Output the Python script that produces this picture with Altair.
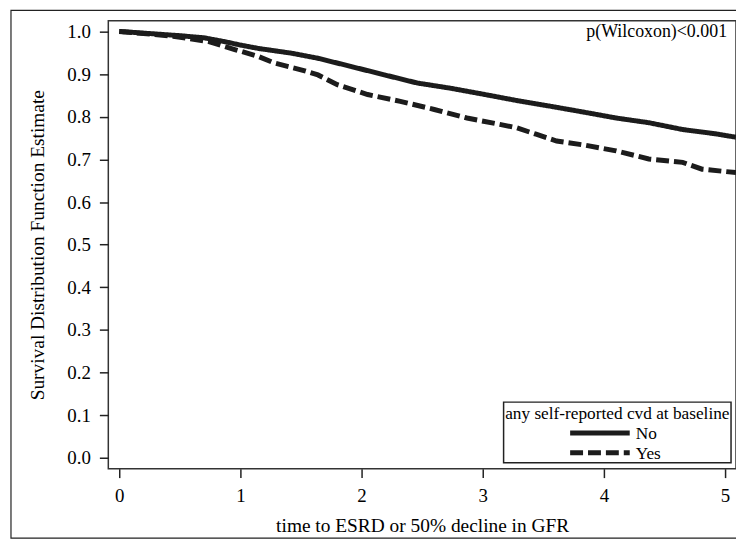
import altair as alt
import pandas as pd

# Kaplan-Meier curves
t_no = [0.0, 0.25, 0.5, 0.7, 0.87, 1.0, 1.15, 1.42, 1.64, 1.91, 2.19, 2.46, 2.73,
        3.0, 3.28, 3.55, 3.83, 4.10, 4.37, 4.65, 4.92, 5.09]
s_no = [1.0, 0.995, 0.99, 0.985, 0.976, 0.968, 0.960, 0.949, 0.937, 0.918, 0.898,
        0.879, 0.867, 0.853, 0.838, 0.825, 0.811, 0.797, 0.786, 0.770, 0.760, 0.752]
t_yes = [0.0, 0.2, 0.46, 0.74, 0.96, 1.15, 1.28, 1.5, 1.64, 1.80, 2.05, 2.32, 2.60,
         2.87, 3.14, 3.28, 3.44, 3.61, 3.83, 4.10, 4.37, 4.65, 4.81, 5.09]
s_yes = [1.0, 0.995, 0.988, 0.976, 0.957, 0.941, 0.926, 0.910, 0.898, 0.875, 0.852,
         0.836, 0.817, 0.797, 0.782, 0.774, 0.759, 0.743, 0.734, 0.720, 0.701, 0.693,
         0.677, 0.669]
groups = ["No", "Yes"]
legend_title = "any self-reported cvd at baseline"
x_ticks = [0, 1, 2, 3, 4, 5]
y_ticks = [0.0, 0.1, 0.2, 0.3, 0.4, 0.5, 0.6, 0.7, 0.8, 0.9, 1.0]
annotation = "p(Wilcoxon)<0.001"

df = pd.DataFrame({
    "t": t_no + t_yes,
    "s": s_no + s_yes,
    "g": ["No"] * len(t_no) + ["Yes"] * len(t_yes),
})

FONT = "Liberation Serif"
INK = "#1c1c1c"
W, H = 632, 451
PAD_L, PAD_T, PAD_R, PAD_B = 101, 11, 0, 71

color_enc = alt.Color("g:N", scale=alt.Scale(domain=groups, range=[INK, INK]), legend=None)
dash_enc = alt.StrokeDash("g:N", scale=alt.Scale(domain=groups, range=[[1, 0], [13, 5]]),
                          legend=None)

lines = alt.Chart(df).mark_line(strokeWidth=5, clip=True).encode(
    x=alt.X("t:Q", scale=alt.Scale(domain=[-0.09, 5.09], nice=False, zero=False),
            axis=alt.Axis(values=x_ticks, title="time to ESRD or 50% decline in GFR",
                          format="d")),
    y=alt.Y("s:Q", scale=alt.Scale(domain=[-0.025, 1.025], nice=False),
            axis=alt.Axis(values=y_ticks, format=".1f",
                          title="Survival Distribution Function Estimate")),
    color=color_enc,
    strokeDash=dash_enc,
    detail="g:N",
    order="t:Q",
)

note = alt.Chart(pd.DataFrame({"txt": [annotation]})).mark_text(
    font=FONT, fontSize=18, align="right", baseline="middle", color="black"
).encode(text="txt:N", x=alt.value(W - 9), y=alt.value(11))

frame = alt.Chart(pd.DataFrame({"a": [0]})).mark_rect(
    fill=None, stroke="#222", strokeWidth=1.2, clip=False
).encode(x=alt.value(-98), x2=alt.value(W + 20), y=alt.value(-10.5),
         y2=alt.value(H + PAD_B - 1))

# legend box drawn inside the plot (bottom-right), SAS style
leg_df = pd.DataFrame({"g": groups})
leg_box = alt.Chart(pd.DataFrame({"a": [0]})).mark_rect(
    fill="white", stroke="#222", strokeWidth=1.5
).encode(x=alt.value(398), x2=alt.value(627), y=alt.value(384), y2=alt.value(445))
leg_title = alt.Chart(pd.DataFrame({"txt": [legend_title]})).mark_text(
    font=FONT, fontSize=17.4, align="center", baseline="middle", color="black"
).encode(text="txt:N", x=alt.value(512.5), y=alt.value(396))

leg_layers = []
for i, g in enumerate(groups):
    ry = 415 + 20 * i
    base = alt.Chart(leg_df).transform_filter(alt.datum.g == g)
    leg_layers.append(base.mark_rule(strokeWidth=5).encode(
        x=alt.value(465), x2=alt.value(525), y=alt.value(ry),
        color=color_enc, strokeDash=dash_enc))
    leg_layers.append(base.mark_text(
        font=FONT, fontSize=17.4, align="left", baseline="middle", color="black"
    ).encode(text="g:N", x=alt.value(531), y=alt.value(ry + 1)))

chart = alt.layer(frame, lines, note, leg_box, leg_title, *leg_layers).properties(
    width=W, height=H,
    autosize=alt.AutoSizeParams(type="none"),
    padding={"left": PAD_L, "top": PAD_T, "right": PAD_R, "bottom": PAD_B},
    background="white",
).configure_view(
    stroke="#333", strokeWidth=1.5
).configure_axis(
    grid=False, domain=False, ticks=True, tickSize=9, tickColor="#222", tickWidth=1.5,
    labelFont=FONT, labelFontSize=19, labelColor="black",
    titleFont=FONT, titleFontSize=19.5, titleFontWeight="normal", titleColor="black",
).configure_axisY(
    labelPadding=9, titlePadding=20,
).configure_axisX(
    labelPadding=9, titlePadding=11,
)

chart.save("out.html", embed_options={"renderer": "svg", "actions": False})
